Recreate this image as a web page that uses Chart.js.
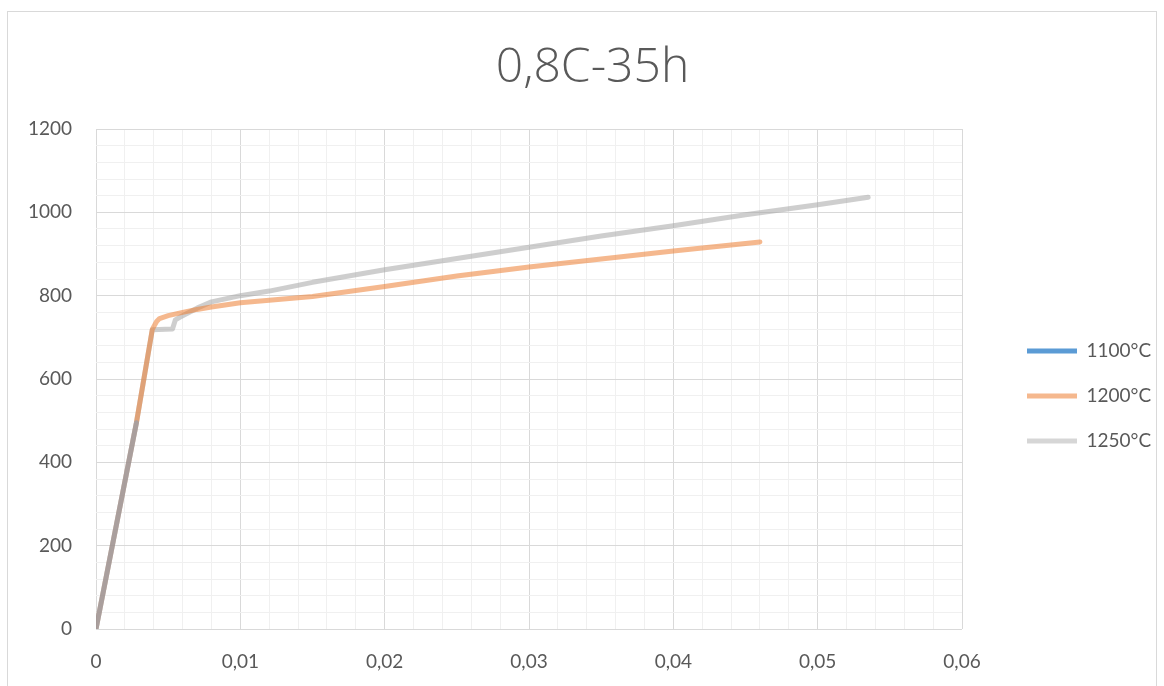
<!DOCTYPE html>
<html>
<head>
<meta charset="utf-8">
<script src="https://cdn.jsdelivr.net/npm/chart.js@4"></script>
<style>
  html, body { margin: 0; padding: 0; background: #ffffff; }
  canvas { display: block; }
</style>
</head>
<body>
<canvas id="chart" width="1164" height="686"></canvas>
<script>
// Stress–strain curves, 0,8C alloy after 35 h at three temperatures
const chartTitle = '0,8C-35h';
const seriesNames = ['1100°C', '1200°C', '1250°C'];

const strain1100 = [0, 0.0028];
const stress1100 = [0, 495];

const strain1200 = [0, 0.0028, 0.0039, 0.0042, 0.0044, 0.005, 0.006, 0.007, 0.008, 0.01, 0.012, 0.015, 0.02, 0.025, 0.03, 0.035, 0.04, 0.045, 0.046];
const stress1200 = [0, 495, 719, 738, 745, 752, 760, 767, 773, 783, 789, 798, 822, 847, 869, 888, 907, 925, 929];

const strain1250 = [0, 0.0028, 0.0039, 0.0053, 0.0055, 0.0058, 0.007, 0.008, 0.01, 0.012, 0.015, 0.02, 0.025, 0.03, 0.035, 0.04, 0.045, 0.05, 0.0535];
const stress1250 = [0, 495, 718, 720, 742, 748, 770, 785, 800, 811, 832, 862, 889, 916, 943, 968, 994, 1018, 1036];

// Major ticks carry labels; minor grid lines fall between them
const xMajorValues = [0, 0.01, 0.02, 0.03, 0.04, 0.05, 0.06];
const xMajorLabels = ['0', '0,01', '0,02', '0,03', '0,04', '0,05', '0,06'];
const yMajorValues = [0, 200, 400, 600, 800, 1000, 1200];
const yMajorLabels = ['0', '200', '400', '600', '800', '1000', '1200'];
const xMinorStep = 0.002;
const yMinorStep = 40;

const lineColors = ['rgba(91,155,213,0.4)', 'rgba(237,125,49,0.55)', 'rgba(165,165,165,0.55)'];
const legendColors = ['rgb(91,155,213)', 'rgba(237,125,49,0.55)', 'rgba(165,165,165,0.45)'];

const TEXT = '#595959';
const GRID_MAJOR = '#d9d9d9';
const GRID_MINOR = '#f0f0f0';
const FONT = 'Lato, "Open Sans", sans-serif';

function toPoints(xs, ys) {
  return xs.map((x, i) => ({ x: x, y: ys[i] }));
}

function majorIndex(values, v) {
  const range = values[values.length - 1] - values[0];
  for (let i = 0; i < values.length; i++) {
    if (Math.abs(values[i] - v) < range * 1e-6) return i;
  }
  return -1;
}

function evenTicks(min, max, step) {
  const n = Math.round((max - min) / step);
  const out = [];
  for (let i = 0; i <= n; i++) out.push({ value: min + i * step });
  return out;
}

const datasets = [
  [strain1100, stress1100],
  [strain1200, stress1200],
  [strain1250, stress1250]
].map((pair, i) => ({
  label: seriesNames[i],
  data: toPoints(pair[0], pair[1]),
  borderColor: lineColors[i],
  backgroundColor: lineColors[i],
  borderWidth: 5,
  borderCapStyle: 'round',
  borderJoinStyle: 'round',
  showLine: true,
  pointRadius: 0,
  pointHoverRadius: 0,
  tension: 0
}));

// Pins the plot area, nudges the title and places the legend block beside the plot
const frame = {
  id: 'frame',
  beforeLayout(chart) {
    const lg = chart.legend;
    if (lg && !lg._fixedWidth) {
      const fit = lg.fit;
      lg.fit = function () { fit.call(this); this.width = 1164 - 962; };
      lg._fixedWidth = true;
    }
  },
  afterLayout(chart) {
    const lg = chart.legend;
    if (lg) {
      lg.left = 1027 - 26;
      lg.right = 1164;
      lg.top = 315.5;
      lg.bottom = 686;
    }
    const tb = chart.titleBlock;
    if (tb) {
      tb.left += 21;
    }
  },
  beforeDraw(chart) {
    const ctx = chart.ctx;
    ctx.save();
    ctx.fillStyle = '#ffffff';
    ctx.fillRect(0, 0, chart.width, chart.height);
    ctx.strokeStyle = GRID_MAJOR;
    ctx.lineWidth = 1;
    ctx.strokeRect(7.5, 11.5, 1149, 700);
    ctx.restore();
  }
};

new Chart(document.getElementById('chart'), {
  type: 'scatter',
  data: { datasets: datasets },
  options: {
    responsive: false,
    animation: false,
    devicePixelRatio: 1,
    layout: { padding: 0 },
    scales: {
      x: {
        type: 'linear',
        min: 0,
        max: 0.06,
        afterBuildTicks(scale) { scale.ticks = evenTicks(0, 0.06, xMinorStep); },
        afterFit(scale) { scale.height = 686 - 629; },
        grid: {
          color: ctx => majorIndex(xMajorValues, ctx.tick.value) >= 0 ? GRID_MAJOR : GRID_MINOR,
          lineWidth: 1,
          drawTicks: false
        },
        border: { display: false },
        ticks: {
          autoSkip: false,
          maxRotation: 0,
          padding: 21,
          color: TEXT,
          font: { family: FONT, size: 19 },
          callback(value) {
            const i = majorIndex(xMajorValues, value);
            return i >= 0 ? xMajorLabels[i] : '';
          }
        }
      },
      y: {
        type: 'linear',
        min: 0,
        max: 1200,
        afterBuildTicks(scale) { scale.ticks = evenTicks(0, 1200, yMinorStep); },
        afterFit(scale) { scale.width = 96; },
        grid: {
          color: ctx => majorIndex(yMajorValues, ctx.tick.value) >= 0 ? GRID_MAJOR : GRID_MINOR,
          lineWidth: 1,
          drawTicks: false
        },
        border: { display: false },
        ticks: {
          autoSkip: false,
          padding: 24,
          color: TEXT,
          font: { family: FONT, size: 19 },
          callback(value) {
            const i = majorIndex(yMajorValues, value);
            return i >= 0 ? yMajorLabels[i] : '';
          }
        }
      }
    },
    plugins: {
      title: {
        display: true,
        text: chartTitle,
        color: TEXT,
        font: { family: '"Open Sans", Lato, sans-serif', size: 48, weight: '300', lineHeight: 1.2 },
        padding: { top: 39.2, bottom: 32.2 }
      },
      legend: {
        display: true,
        position: 'right',
        align: 'start',
        labels: {
          usePointStyle: true,
          pointStyle: 'line',
          pointStyleWidth: 50,
          padding: 26,
          color: TEXT,
          font: { family: FONT, size: 19 },
          generateLabels(chart) {
            const items = Chart.defaults.plugins.legend.labels.generateLabels(chart);
            items.forEach((it, i) => {
              it.strokeStyle = legendColors[i];
              it.fillStyle = legendColors[i];
              it.lineWidth = 5;
              it.lineCap = 'butt';
              it.pointStyle = 'line';
            });
            return items;
          }
        }
      },
      tooltip: { enabled: false }
    }
  },
  plugins: [frame]
});
</script>
</body>
</html>
